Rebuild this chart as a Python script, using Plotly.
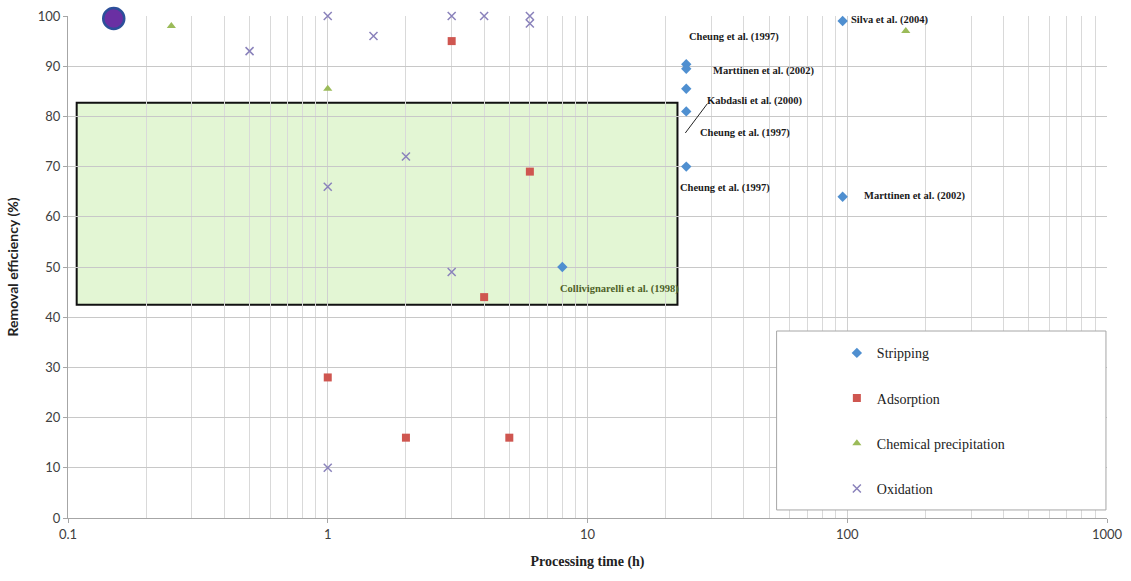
import numpy as np
import plotly.graph_objects as go

# Processing time (h) and removal efficiency (%) per treatment
strip_t = [24, 24, 24, 24, 24, 96, 96, 8]
strip_e = [90.4, 89.5, 85.5, 81, 70, 99, 64, 50]

ads_t = [3, 6, 4, 1, 2, 5]
ads_e = [95, 69, 44, 28, 16, 16]

prec_t = [0.25, 1, 168]
prec_e = [98, 85.5, 97]

oxi_t = [0.5, 1, 1, 1, 1.5, 2, 3, 3, 4, 6, 6]
oxi_e = [93, 100, 66, 10, 96, 72, 100, 49, 100, 100, 98.5]

hi_t = [0.15]
hi_e = [99.5]

# Target window shaded on the chart (time range, efficiency range)
box_t = [0.108, 22.2]
box_e = [42.5, 82.7]

# Source labels: text, log10(time), efficiency, colour
labels = [
    ("Cheung et al. (1997)", 1.565, 95.8, "#1a1a1a"),
    ("Marttinen et al. (2002)", 1.677, 89.0, "#1a1a1a"),
    ("Kabdasli et al. (2000)", 1.646, 83.1, "#1a1a1a"),
    ("Cheung et al. (1997)", 1.608, 76.7, "#1a1a1a"),
    ("Cheung et al. (1997)", 1.531, 65.7, "#1a1a1a"),
    ("Silva et al. (2004)", 2.162, 99.2, "#1a1a1a"),
    ("Marttinen et al. (2002)", 2.258, 64.1, "#1a1a1a"),
    ("Collivignarelli et al. (1998)", 1.123, 45.6, "#4f6228"),
]

x_major = [0.1, 1, 10, 100, 1000]
x_minor = [m * d for d in [0.1, 1, 10, 100] for m in range(2, 10)]
y_ticks = list(range(0, 101, 10))

fig = go.Figure()

fig.add_trace(go.Scatter(
    x=strip_t, y=strip_e, mode="markers", name="Stripping", legendgroup="a",
    marker=dict(symbol="diamond", size=8, color="#4f8fd0"), cliponaxis=False))
fig.add_trace(go.Scatter(
    x=ads_t, y=ads_e, mode="markers", name="Adsorption", legendgroup="b",
    marker=dict(symbol="square", size=8, color="#cf5650"), cliponaxis=False))
fig.add_trace(go.Scatter(
    x=prec_t, y=prec_e, mode="markers", name="Chemical precipitation", legendgroup="c",
    marker=dict(symbol="triangle-up", size=8, color="#9bbb59"), cliponaxis=False))
fig.add_trace(go.Scatter(
    x=oxi_t, y=oxi_e, mode="markers", name="Oxidation", legendgroup="d",
    marker=dict(symbol="x-thin", size=8, line=dict(width=1.5, color="#8a82bb")),
    cliponaxis=False))
fig.add_trace(go.Scatter(
    x=hi_t, y=hi_e, mode="markers", showlegend=False,
    marker=dict(symbol="circle", size=21, color="#6a2fa3",
                line=dict(width=2.5, color="#2c4f9a")), cliponaxis=False))

shapes = [
    dict(type="rect", xref="x", yref="y", layer="below",
         x0=box_t[0], x1=box_t[1], y0=box_e[0], y1=box_e[1],
         fillcolor="#e3f6d4", line=dict(color="#111111", width=2)),
    # leader line for the Kabdasli label
    dict(type="line", xref="x", yref="y",
         x0=23.8, y0=76.7, x1=28.9, y1=82.5, line=dict(color="#222222", width=1)),
    # legend frame
    dict(type="rect", xref="paper", yref="paper", layer="above",
         x0=0.682, x1=0.999, y0=0.016, y1=0.3725,
         fillcolor="white", line=dict(color="#a6a6a6", width=1)),
]

annotations = [
    dict(x=lx, y=ly, xref="x", yref="y", text=f"<b>{t}</b>", showarrow=False,
         font=dict(family="Liberation Serif", size=10.5, color=c))
    for t, lx, ly, c in labels
]

fig.update_layout(
    width=1131, height=581,
    margin=dict(l=68, r=24, t=16, b=63),
    paper_bgcolor="white", plot_bgcolor="white",
    shapes=shapes, annotations=annotations,
    showlegend=True,
    legend=dict(x=0.74, y=0.36, xanchor="left", yanchor="top",
                bgcolor="rgba(0,0,0,0)", borderwidth=0, tracegroupgap=24,
                itemwidth=30,
                font=dict(family="Liberation Serif", size=14, color="#222222")),
    xaxis=dict(
        type="log", range=[-1, 3], automargin=False,
        tickvals=x_major, ticktext=["0.1", "1", "10", "100", "1000"],
        ticks="outside", ticklen=4, tickcolor="#a6a6a6",
        showgrid=True, gridcolor="#d0d0d0", gridwidth=1,
        minor=dict(tickvals=x_minor, showgrid=True, gridcolor="#d9d9d9", ticks=""),
        showline=True, linecolor="#a6a6a6", linewidth=1,
        tickfont=dict(family="Lato", size=13, color="#404040"),
        title=dict(text="<b>Processing time (h)</b>",
                   font=dict(family="Liberation Serif", size=14, color="#222222")),
        zeroline=False),
    yaxis=dict(
        range=[0, 100], tickvals=y_ticks, automargin=False,
        ticks="outside", ticklen=4, tickcolor="#a6a6a6",
        showgrid=True, gridcolor="#c8c8c8", gridwidth=1,
        showline=True, linecolor="#a6a6a6", linewidth=1,
        tickfont=dict(family="Lato", size=13, color="#404040"),
        title=dict(text="<b>Removal efficiency (%)</b>",
                   font=dict(family="Lato", size=14, color="#222222")),
        zeroline=False),
)

fig.write_html("out.html")
